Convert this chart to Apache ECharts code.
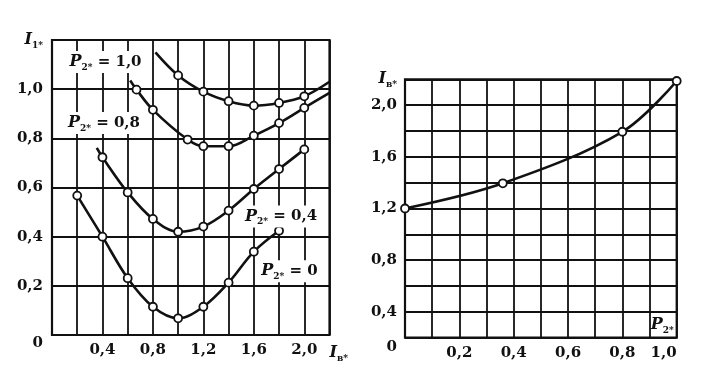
<!DOCTYPE html>
<html><head><meta charset="utf-8">
<script src="https://cdn.jsdelivr.net/npm/echarts@6/dist/echarts.min.js"></script>
<style>html,body{margin:0;padding:0;background:#fff}#c{width:710px;height:366px}</style>
</head><body><div id="c"></div>
<script>
// Left chart: I1* versus Iв* for several P2*
const p0X = [0.2, 0.4, 0.6, 0.8, 1.0, 1.2, 1.4, 1.6, 1.8];
const p0Y = [0.567, 0.40, 0.231, 0.115, 0.068, 0.115, 0.213, 0.339, 0.424];
const p0Mark = [1, 1, 1, 1, 1, 1, 1, 1, 1];
const p04X = [0.355, 0.4, 0.6, 0.8, 1.0, 1.2, 1.4, 1.6, 1.8, 2.0];
const p04Y = [0.761, 0.723, 0.58, 0.472, 0.42, 0.441, 0.506, 0.594, 0.675, 0.755];
const p04Mark = [0, 1, 1, 1, 1, 1, 1, 1, 1, 1];
const p08X = [0.62, 0.67, 0.8, 1.075, 1.2, 1.4, 1.6, 1.8, 2.0, 2.2];
const p08Y = [1.035, 0.998, 0.916, 0.795, 0.768, 0.768, 0.811, 0.862, 0.924, 0.985];
const p08Mark = [0, 1, 1, 1, 1, 1, 1, 1, 1, 0];
const p10X = [0.82, 1.0, 1.2, 1.4, 1.6, 1.8, 2.0, 2.2];
const p10Y = [1.15, 1.056, 0.99, 0.951, 0.933, 0.944, 0.971, 1.03];
const p10Mark = [0, 1, 1, 1, 1, 1, 1, 0];
// Right chart: Iв* versus P2*
const pX = [0, 0.36, 0.8, 1.0];
const pY = [1.2, 1.395, 1.794, 2.187];
const pMark = [1, 1, 1, 1];

// Tick labels
const leftXLabels = [0.4, 0.8, 1.2, 1.6, 2.0];
const leftYLabels = [0.2, 0.4, 0.6, 0.8, 1.0];
const rightXLabels = [0.2, 0.4, 0.6, 0.8, 1.0];
const rightYLabels = [0.4, 0.8, 1.2, 1.6, 2.0];
const curveValues = ['0', '0,4', '0,8', '1,0'];

const INK = '#111';
const FONT = 'DejaVu Serif';
const W = 'bold';
const rich = {
  i: {fontFamily: FONT, fontStyle: 'italic', fontWeight: W, fontSize: 16, color: INK, lineHeight: 20},
  s: {fontFamily: FONT, fontWeight: W, fontSize: 9, color: INK, lineHeight: 12, verticalAlign: 'bottom'},
  t: {fontFamily: FONT, fontWeight: W, fontSize: 15, color: INK, lineHeight: 20},
  oL: {fontFamily: FONT, fontWeight: W, fontSize: 15, color: INK, lineHeight: 18, padding: [17, 0, 0, 0]},
  oR: {fontFamily: FONT, fontWeight: W, fontSize: 15, color: INK, lineHeight: 18, padding: [19, 0, 0, 0]}
};
const fmt = v => v.toFixed(1).replace('.', ',');
const key = v => Math.round(v * 10) / 10;
const has = (arr, v) => arr.some(a => Math.abs(a - key(v)) < 1e-9);

function pts(xs, ys, marks) {
  return xs.map((x, i) => ({value: [x, ys[i]], symbol: marks[i] ? 'circle' : 'none'}));
}
function curveLabel(val) {
  return '{i|P}{s|2*}{t| = ' + val + '}';
}
function curve(xs, ys, marks, gi, labelCoord, labelText) {
  const s = {
    type: 'line', xAxisIndex: gi, yAxisIndex: gi,
    data: pts(xs, ys, marks), smooth: 0.35,
    symbolSize: 8, showAllSymbol: true,
    lineStyle: {color: INK, width: 2.6},
    itemStyle: {color: '#fff', borderColor: INK, borderWidth: 1.8},
    z: 3
  };
  if (labelCoord) {
    s.markPoint = {
      symbol: 'circle', symbolSize: 1, itemStyle: {color: 'rgba(0,0,0,0)'},
      label: {show: true, position: 'inside', formatter: labelText, backgroundColor: '#fff',
              padding: [1, 2, 1, 2], rich: rich},
      data: [{coord: labelCoord}], z: 5
    };
  }
  return s;
}

const splitStyle = {show: true, lineStyle: {color: INK, width: 1.8}};
const labelBase = {fontFamily: FONT, fontWeight: W, fontSize: 15, color: INK, rich: rich,
                   showMinLabel: true, showMaxLabel: true, hideOverlap: false};
const option = {
  animation: false,
  backgroundColor: '#fff',
  grid: [
    {left: 52, top: 40, width: 277.5, height: 295, show: true, borderColor: INK, borderWidth: 2.2, backgroundColor: '#fff'},
    {left: 405, top: 79.3, width: 271.7, height: 258.4, show: true, borderColor: INK, borderWidth: 2.2, backgroundColor: '#fff'}
  ],
  xAxis: [
    {type: 'value', gridIndex: 0, min: 0, max: 2.2, interval: 0.2,
     axisLine: {show: false}, axisTick: {show: false}, splitLine: splitStyle,
     axisLabel: Object.assign({}, labelBase, {margin: 8, alignMaxLabel: 'left',
       formatter: v => key(v) === 2.2 ? '{i|I}{s|в*}' : (has(leftXLabels, v) ? fmt(v) : '')})},
    {type: 'value', gridIndex: 1, min: 0, max: 1.0, interval: 0.1,
     axisLine: {show: false}, axisTick: {show: false}, splitLine: splitStyle,
     name: '{i|P}{s|2*}', nameLocation: 'end', nameGap: -26,
     nameTextStyle: {align: 'left', verticalAlign: 'bottom', padding: [0, 0, 3, 0], rich: rich},
     axisLabel: Object.assign({}, labelBase, {margin: 8, alignMaxLabel: 'right',
       formatter: v => has(rightXLabels, v) ? fmt(v) : ''})}
  ],
  yAxis: [
    {type: 'value', gridIndex: 0, min: 0, max: 1.2, interval: 0.2,
     axisLine: {show: false}, axisTick: {show: false}, splitLine: splitStyle,
     axisLabel: Object.assign({}, labelBase, {margin: 9,
       formatter: v => key(v) === 0 ? '{oL|0}' : (key(v) === 1.2 ? '{i|I}{s|1*}' : (has(leftYLabels, v) ? fmt(v) : ''))})},
    {type: 'value', gridIndex: 1, min: 0.2, max: 2.2, interval: 0.2,
     axisLine: {show: false}, axisTick: {show: false}, splitLine: splitStyle,
     axisLabel: Object.assign({}, labelBase, {margin: 8,
       formatter: v => key(v) === 0.2 ? '{oR|0}' : (key(v) === 2.2 ? '{i|I}{s|в*}' : (has(rightYLabels, v) ? fmt(v) : ''))})}
  ],
  series: [
    curve(p0X, p0Y, p0Mark, 0, [1.883, 0.259], curveLabel(curveValues[0])),
    curve(p04X, p04Y, p04Mark, 0, [1.816, 0.482], curveLabel(curveValues[1])),
    curve(p08X, p08Y, p08Mark, 0, [0.412, 0.862], curveLabel(curveValues[2])),
    curve(p10X, p10Y, p10Mark, 0, [0.424, 1.111], curveLabel(curveValues[3])),
    curve(pX, pY, pMark, 1, null, null)
  ]
};
const chart = echarts.init(document.getElementById('c'), null, {renderer: 'canvas'});
chart.setOption(option);
</script>
</body></html>
